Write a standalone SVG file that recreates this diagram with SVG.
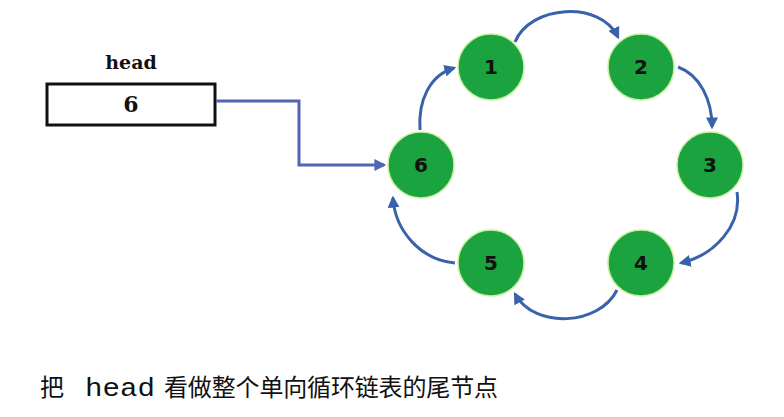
<svg xmlns="http://www.w3.org/2000/svg" width="784" height="417" viewBox="0 0 784 417">
<defs>
<style>
.node circle{fill:#1aa33f;stroke:#c8f0a0;stroke-width:1.5}
.node text{font-family:"DejaVu Sans","Liberation Sans",sans-serif;font-weight:bold;font-size:20px;fill:#111;text-anchor:middle}
.arc{fill:none;stroke:#3a62aa;stroke-width:3;marker-end:url(#ah)}
.link{fill:none;stroke:#5565b5;stroke-width:3;marker-end:url(#ah2)}
.lbl{font-family:"DejaVu Serif","Liberation Serif",serif;font-weight:bold;fill:#111;text-anchor:middle}
</style>
<marker id="ah" viewBox="0 0 10 10" refX="8" refY="5" markerWidth="4" markerHeight="4" orient="auto" markerUnits="strokeWidth"><path d="M0,0 L10,5 L0,10 Z" fill="#3a62aa"/></marker>
<marker id="ah2" viewBox="0 0 10 10" refX="8" refY="5" markerWidth="4" markerHeight="4" orient="auto" markerUnits="strokeWidth"><path d="M0,0 L10,5 L0,10 Z" fill="#5565b5"/></marker>
</defs>
<rect width="784" height="417" fill="#fff"/>
<g id="head">
<text x="131" y="69" class="lbl" font-size="19">head</text>
<rect x="47" y="84" width="168" height="41" fill="#fff" stroke="#111" stroke-width="3"/>
<text x="131" y="112" class="lbl" font-size="22">6</text>
</g>
<g id="connectors">
<path class="link" d="M216,101 H299 V165 H384"/>
<path class="arc" d="M515,42 C530,5 600,0 618,37"/>
<path class="arc" d="M678,67 C700,75 712,100 712,127"/>
<path class="arc" d="M737,192 C742,225 715,255 681,263"/>
<path class="arc" d="M617,290 C600,325 535,330 515,294"/>
<path class="arc" d="M455,263 C420,260 395,230 393,198"/>
<path class="arc" d="M420,130 C418,100 430,75 454,68"/>
</g>
<g id="n1" class="node"><circle cx="491" cy="67" r="33"/><text x="491" y="74">1</text></g>
<g id="n2" class="node"><circle cx="641" cy="67" r="33"/><text x="641" y="74">2</text></g>
<g id="n3" class="node"><circle cx="710" cy="165" r="33"/><text x="710" y="172">3</text></g>
<g id="n4" class="node"><circle cx="641" cy="263" r="33"/><text x="641" y="270">4</text></g>
<g id="n5" class="node"><circle cx="491" cy="263" r="33"/><text x="491" y="270">5</text></g>
<g id="n6" class="node"><circle cx="421" cy="165" r="33"/><text x="421" y="172">6</text></g>
<g id="caption" fill="#111">
<text x="40" y="396" font-family="Noto Sans CJK SC, sans-serif" font-size="24">把</text>
<text x="85" y="396" font-family="Liberation Mono, monospace" font-size="26" textLength="70" lengthAdjust="spacingAndGlyphs">head</text>
<text x="164" y="396" font-family="Noto Sans CJK SC, sans-serif" font-size="24" textLength="334" lengthAdjust="spacing">看做整个单向循环链表的尾节点</text>
</g>
</svg>
